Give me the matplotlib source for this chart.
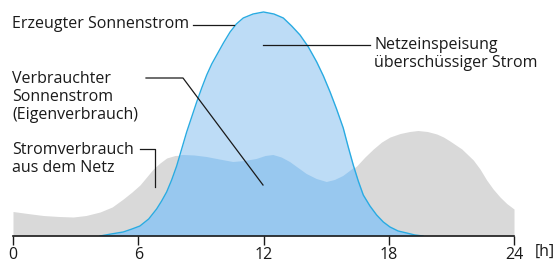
import matplotlib.pyplot as plt
from matplotlib.patches import Polygon

# Erzeugter Sonnenstrom (Stunde, Höhe in px über der Achse)
gen_hours = [4.17, 4.7, 5.28, 5.7, 6.08, 6.5, 6.88, 7.12, 7.36, 7.6, 7.84, 8.08, 8.32, 8.56,
             8.8, 9.04, 9.28, 9.52, 9.76, 10.08, 10.4, 10.7, 11.03, 11.5, 12.0, 12.5, 12.95,
             13.35, 13.75, 14.15, 14.55, 14.87, 15.19, 15.5, 15.82, 16.06, 16.3, 16.54,
             16.78, 17.1, 17.42, 17.74, 18.06, 18.45, 18.86, 19.25, 19.64]
gen_vals = [0, 2, 4, 7, 10, 17, 27, 35, 44, 56, 70, 87, 104, 119,
            134, 148, 161, 172, 181, 193, 204, 212, 218, 222, 224, 222, 218,
            210, 201, 189, 174, 160, 144, 127, 108, 89, 71, 55,
            41, 30, 21, 14, 9, 5, 3, 1, 0]

# Stromverbrauch gesamt
cons_hours = [0, 0.7, 1.45, 2.2, 2.89, 3.5, 4.17, 4.75, 5.28, 5.7, 6.08, 6.4, 6.72, 7.04,
              7.36, 7.76, 8.16, 8.7, 9.28, 9.9, 10.55, 11.1, 11.67, 12.1, 12.47, 12.87,
              13.27, 13.67, 14.07, 14.55, 15.03, 15.42, 15.82, 16.14, 16.46, 16.86, 17.26,
              17.66, 18.06, 18.55, 19.0, 19.4, 19.85, 20.3, 20.62, 20.93, 21.5, 22.05,
              22.37, 22.69, 23.0, 23.33, 23.65, 24]
cons_vals = [24.5, 22.5, 20.5, 19.5, 19, 20.5, 24, 29, 37, 44, 51, 59, 67, 73,
             78, 80.5, 81, 80.5, 79, 76.5, 74, 75, 77, 80, 81, 78.5,
             74, 68, 62, 57, 54, 56, 60, 65, 70, 79, 87,
             94, 99, 102.5, 104.5, 105.5, 104.5, 102, 99, 95, 87, 76,
             67, 56, 47, 39, 32.5, 27]

tick_pos = [0, 6, 12, 18, 24]
tick_labels = ["0", "6", "12", "18", "24"]

plt.rcParams['font.family'] = ['Open Sans', 'DejaVu Sans']
text_color = "#1a1a1a"

fig = plt.figure(figsize=(5.55, 2.63), dpi=100)
ax = fig.add_axes([13 / 555, 27 / 263, 501 / 555, 236 / 263])
ax.set_xlim(0, 24)
ax.set_ylim(0, 236)


def px(x, y):
    # Pixelposition im Bild -> Datenkoordinaten
    return (x - 13) / 20.875, 236 - y


# Flächen: Netzbezug grau, Überschuss hellblau, Eigenverbrauch dunkelblau
ax.fill_between(cons_hours, 0, cons_vals, color="#d9d9d9", lw=0)
ax.fill_between(gen_hours, 0, gen_vals, color="#bddcf6", lw=0)
cons_poly = Polygon(list(zip([0] + cons_hours + [24], [0] + cons_vals + [0])),
                    closed=True, transform=ax.transData)
dark = ax.fill_between(gen_hours, 0, gen_vals, color="#98c8ef", lw=0)
dark.set_clip_path(cons_poly)
ax.plot(gen_hours, gen_vals, color="#29abe2", lw=1)

# Achse
for s in ["top", "left", "right"]:
    ax.spines[s].set_visible(False)
ax.spines["bottom"].set_linewidth(1.2)
ax.spines["bottom"].set_color(text_color)
ax.set_yticks([])
ax.set_xticks(tick_pos)
ax.set_xticklabels(tick_labels)
ax.tick_params(axis="x", direction="out", length=6.5, width=1, color=text_color,
               labelsize=11.5, labelcolor=text_color, pad=1.5)
ax.text(*px(535, 252), "[h]", fontsize=11.5, color=text_color, va="center", ha="left",
        clip_on=False)

# Beschriftungen mit Hinweislinien
lkw = dict(color=text_color, lw=0.9, clip_on=False)
fs = 11.5
ax.text(*px(12, 24), "Erzeugter Sonnenstrom", fontsize=fs, color=text_color, va="center")
ax.plot(*zip(px(193, 25), px(234, 25)), **lkw)

ax.text(*px(374, 54), "Netzeinspeisung\nüberschüssiger Strom", fontsize=fs,
        color=text_color, va="center", linespacing=1.1)
ax.plot(*zip(px(263, 45), px(370, 45)), **lkw)

ax.text(*px(12, 97), "Verbrauchter\nSonnenstrom\n(Eigenverbrauch)", fontsize=fs,
        color=text_color, va="center", linespacing=1.15)
ax.plot(*zip(px(146, 78), px(183, 78), px(263, 185)), **lkw)

ax.text(*px(12, 159), "Stromverbrauch\naus dem Netz", fontsize=fs, color=text_color,
        va="center", linespacing=1.1)
ax.plot(*zip(px(140, 149), px(155, 149), px(155, 187)), **lkw)

fig.savefig("out.png", dpi=100)
